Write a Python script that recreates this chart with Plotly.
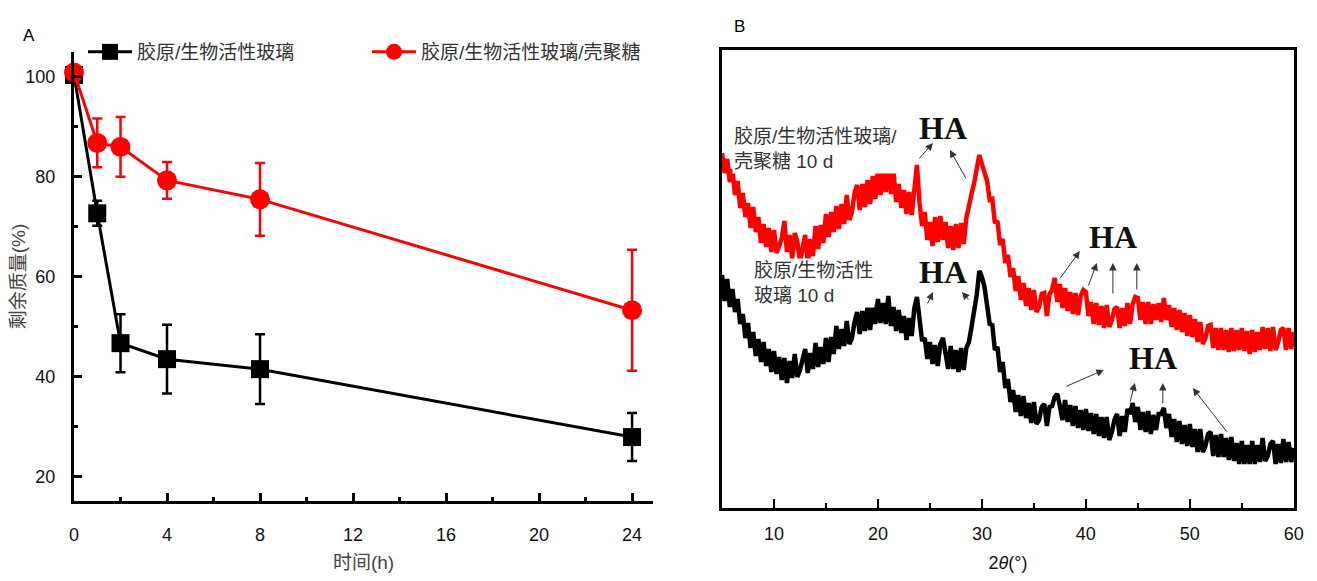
import plotly.graph_objects as go

# ---------------- Panel A data ----------------
TIME_H = [0, 1, 2, 4, 8, 24]
MASS_CBG = [100.4, 72.7, 46.7, 43.5, 41.5, 27.9]      # 胶原/生物活性玻璃
ERR_CBG = [0.8, 2.5, 5.8, 6.9, 7.0, 4.8]
MASS_CBGC = [100.9, 86.8, 86.0, 79.3, 75.5, 53.3]     # 胶原/生物活性玻璃/壳聚糖
ERR_CBGC = [0.8, 4.9, 6.0, 3.7, 7.3, 12.1]
NAME_CBG = "胶原/生物活性玻璃"
NAME_CBGC = "胶原/生物活性玻璃/壳聚糖"

# ---------------- Panel B data (XRD, 2θ from 5° step 0.25°) ----------------
XRD_START = 5.0
XRD_STEP = 0.25
XRD_CBGC = [
    355, 335, 349, 326,
    339, 313, 327, 300,
    315, 291, 305, 280,
    301, 276, 291, 265,
    284, 261, 280, 256,
    278, 255, 262, 270,
    287, 256, 273, 249,
    275, 266, 246, 262,
    273, 245, 269, 252,
    282, 259, 283, 265,
    294, 271, 296, 276,
    302, 279, 304, 284,
    313, 288, 296, 315,
    323, 298, 324, 301,
    328, 304, 332, 309,
    339, 313, 342, 316,
    349, 314, 336, 306,
    324, 300, 318, 294,
    316, 293, 320, 343,
    305, 282, 296, 268,
    286, 262, 291, 266,
    292, 268, 286, 260,
    282, 258, 284, 260,
    285, 264, 290, 300,
    314, 325, 340, 353,
    344, 334, 327, 308,
    309, 285, 287, 263,
    269, 245, 253, 231,
    240, 217, 232, 208,
    225, 202, 220, 198,
    218, 196, 201, 214,
    215, 192, 214, 218,
    230, 206, 224, 200,
    220, 197, 216, 194,
    215, 193, 212, 218,
    216, 192, 206, 184,
    205, 183, 202, 180,
    203, 181, 188, 199,
    201, 180, 200, 182,
    205, 184, 204, 211,
    210, 188, 206, 184,
    206, 184, 204, 188,
    205, 186, 210, 188,
    203, 181, 200, 178,
    198, 176, 195, 172,
    193, 171, 189, 166,
    186, 164, 170, 182,
    183, 160, 180, 158,
    180, 158, 178, 156,
    180, 157, 178, 158,
    180, 157, 177, 154,
    178, 156, 176, 158,
    181, 159, 180, 157,
    181, 158, 166, 178,
    180, 158, 180, 159,
    176,
]
XRD_CBG = [
    233, 207, 229, 201,
    219, 196, 209, 184,
    194, 170, 185, 160,
    176, 152, 169, 146,
    166, 142, 159, 136,
    157, 134, 151, 128,
    150, 125, 147, 130,
    154, 131, 138, 150,
    159, 135, 155, 139,
    165, 141, 161, 144,
    170, 146, 171, 154,
    182, 159, 179, 162,
    187, 164, 170, 186,
    196, 174, 197, 177,
    201, 178, 203, 184,
    209, 185, 205, 184,
    212, 182, 201, 177,
    198, 175, 192, 168,
    190, 172, 200, 211,
    188, 167, 170, 149,
    166, 144, 163, 142,
    164, 170, 155, 139,
    162, 139, 158, 136,
    160, 138, 160, 166,
    181, 195, 213, 237,
    231, 221, 201, 184,
    183, 158, 161, 136,
    146, 120, 129, 106,
    118, 96, 113, 92,
    112, 90, 105, 85,
    106, 84, 88, 101,
    104, 82, 101, 102,
    111, 114, 102, 88,
    108, 86, 103, 82,
    102, 80, 98, 78,
    99, 77, 95, 74,
    94, 72, 91, 70,
    91, 68, 76, 88,
    94, 72, 92, 76,
    99, 94, 105, 86,
    101, 78, 96, 76,
    97, 74, 93, 78,
    94, 94, 100, 80,
    94, 71, 89, 66,
    87, 64, 83, 62,
    84, 61, 79, 56,
    79, 56, 62, 74,
    76, 52, 73, 51,
    74, 51, 70, 48,
    71, 47, 65, 44,
    67, 44, 63, 44,
    67, 44, 63, 46,
    70, 47, 52, 64,
    67, 44, 64, 45,
    69, 46, 66, 46,
    60,
]
THETA_CBGC = [round(XRD_START + XRD_STEP * i, 2) for i in range(len(XRD_CBGC))]
THETA_CBG = [round(XRD_START + XRD_STEP * i, 2) for i in range(len(XRD_CBG))]

LABEL_CBGC = "胶原/生物活性玻璃/<br>壳聚糖 10 d"
LABEL_CBG = "胶原/生物活性<br>玻璃 10 d"

FONT = "Liberation Sans, Arial, Noto Sans CJK SC"
CJK = "Liberation Sans, Noto Sans CJK SC"

fig = go.Figure()

fig.add_trace(go.Scatter(
    x=TIME_H, y=MASS_CBG, name=NAME_CBG, mode="lines+markers",
    line=dict(color="black", width=3),
    marker=dict(symbol="square", size=18, color="black"),
    error_y=dict(type="data", array=ERR_CBG, color="black", thickness=2.5, width=5),
    cliponaxis=False, legend="legend", xaxis="x", yaxis="y"))
fig.add_trace(go.Scatter(
    x=TIME_H, y=MASS_CBGC, name=NAME_CBGC, mode="lines+markers",
    line=dict(color="#ff0000", width=3),
    marker=dict(symbol="circle", size=20, color="#ff0000"),
    error_y=dict(type="data", array=ERR_CBGC, color="#ff0000", thickness=2.5, width=5),
    cliponaxis=False, legend="legend2", xaxis="x", yaxis="y"))

fig.add_trace(go.Scatter(
    x=THETA_CBGC, y=XRD_CBGC, mode="lines", line=dict(color="#ff0000", width=4.5),
    showlegend=False, xaxis="x2", yaxis="y2", hoverinfo="skip"))
fig.add_trace(go.Scatter(
    x=THETA_CBG, y=XRD_CBG, mode="lines", line=dict(color="black", width=4.5),
    showlegend=False, xaxis="x2", yaxis="y2", hoverinfo="skip"))

# page body adds an 8 px offset; figure is sized to fit the window
W, H = 1301, 565
ML, MR, MT, MB = 66, 15, 42, 65
PW, PH = W - ML - MR, H - MT - MB


def px(xp):
    return (xp - 74) / PW


def py(yp):
    return (508 - yp) / PH


tickfont = dict(family=FONT, size=18, color="#111")
titlefont = dict(family=CJK, size=19, color="#444")

annotations = [
    dict(text="A", x=px(21), y=py(24), xref="paper", yref="paper", showarrow=False,
         font=dict(family=FONT, size=17, color="black")),
    dict(text="B", x=px(739), y=py(15), xref="paper", yref="paper", showarrow=False,
         font=dict(family=FONT, size=17, color="black")),
    dict(text=LABEL_CBGC, x=6.0, y=359, xref="x2", yref="y2", showarrow=False,
         xanchor="left", yanchor="middle", align="left", bgcolor="white",
         font=dict(family=CJK, size=19, color="#333")),
    dict(text=LABEL_CBG, x=7.9, y=225, xref="x2", yref="y2", showarrow=False,
         xanchor="left", yanchor="middle", align="left", bgcolor="white",
         font=dict(family=CJK, size=19, color="#333")),
]
HA_POS = [(26.25, 380), (26.25, 236), (42.6, 271), (46.44, 150)]
for hx, hy in HA_POS:
    annotations.append(dict(text="<b>HA</b>", x=hx, y=hy, xref="x2", yref="y2",
                            showarrow=False,
                            font=dict(family="Liberation Serif, Times New Roman", size=32,
                                      color="#111")))
ARROWS = [
    ((25.29, 365), (23.85, 348)), ((26.92, 358), (28.56, 328)),
    ((25.29, 216), (24.71, 203)), ((28.08, 216), (28.85, 207)),
    ((39.42, 257), (37.40, 228)), ((41.06, 245), (40.19, 221)),
    ((42.6, 245), (42.6, 213)), ((44.9, 245), (44.9, 217)),
    ((41.73, 138), (37.98, 121)), ((44.71, 125), (44.23, 105)),
    ((47.4, 125), (47.4, 103)), ((50.29, 120), (53.65, 75)),
]
for (hx, hy), (tx, ty) in ARROWS:
    annotations.append(dict(text="", x=hx, y=hy, ax=tx, ay=ty, xref="x2", yref="y2",
                            axref="x2", ayref="y2", showarrow=True, arrowhead=2,
                            arrowsize=1.5, arrowwidth=1, arrowcolor="#333", standoff=0,
                            startstandoff=0))

fig.update_layout(
    width=W, height=H, margin=dict(l=ML, r=MR, t=MT, b=MB, autoexpand=False),
    paper_bgcolor="white", plot_bgcolor="white",
    font=dict(family=FONT, size=18, color="#111"),
    xaxis=dict(domain=[0, px(653)], range=[0, 24.9], anchor="y", automargin=False,
               tickmode="linear", tick0=0, dtick=4,
               ticks="inside", ticklen=8, tickwidth=2.5, tickcolor="black",
               minor=dict(ticks="inside", ticklen=4, tickwidth=2.5, dtick=2, tickcolor="black"),
               showline=True, linewidth=3, linecolor="black",
               showgrid=False, zeroline=False, tickfont=tickfont, ticklabelstandoff=15,
               title=dict(text="时间(h)", font=titlefont, standoff=26)),
    yaxis=dict(domain=[py(501), py(52)], range=[15.1, 105], anchor="x", automargin=False,
               tickmode="linear", tick0=20, dtick=20,
               ticks="inside", ticklen=8, tickwidth=2.5, tickcolor="black",
               minor=dict(ticks="inside", ticklen=4, tickwidth=2.5, dtick=10, tickcolor="black"),
               showline=True, linewidth=3, linecolor="black",
               showgrid=False, zeroline=False, tickfont=tickfont, ticklabelstandoff=12,
               title=dict(text="剩余质量(%)", font=titlefont, standoff=0)),
    xaxis2=dict(domain=[px(722), 1], range=[5, 60.02], anchor="y2", automargin=False,
                tickmode="linear", tick0=0, dtick=10,
                ticks="inside", ticklen=9, tickwidth=2, tickcolor="black",
                minor=dict(ticks="inside", ticklen=5, tickwidth=2, dtick=5, tickcolor="black"),
                showline=True, mirror=True, linewidth=2.5, linecolor="black",
                showgrid=False, zeroline=False, tickfont=tickfont, ticklabelstandoff=8,
                title=dict(text="2<i>θ</i>(°)", font=dict(family=FONT, size=18, color="#111"),
                           standoff=30)),
    yaxis2=dict(domain=[0, 1], range=[0, 458], anchor="x2", automargin=False,
                showticklabels=False, ticks="",
                showline=True, mirror=True, linewidth=2.5, linecolor="black",
                showgrid=False, zeroline=False),
    legend=dict(x=px(83), y=py(52), xanchor="left", yanchor="middle",
                orientation="h", bgcolor="rgba(0,0,0,0)", itemwidth=44,
                font=dict(family=CJK, size=19, color="#333")),
    legend2=dict(x=px(367), y=py(52), xanchor="left", yanchor="middle",
                 orientation="h", bgcolor="rgba(0,0,0,0)", itemwidth=44,
                 font=dict(family=CJK, size=19, color="#333")),
    annotations=annotations,
    showlegend=True,
)

fig.write_html("out.html")
